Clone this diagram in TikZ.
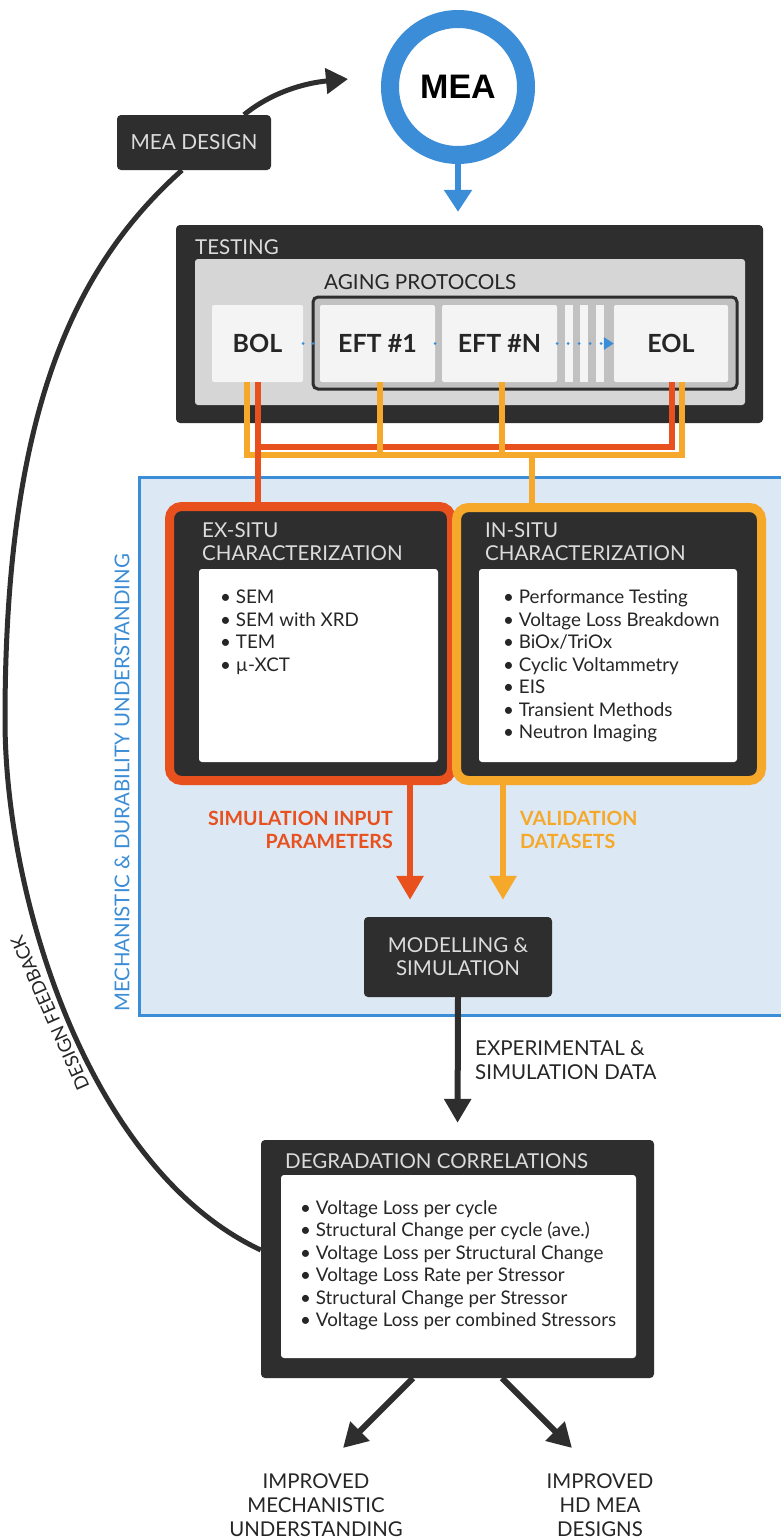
\documentclass[tikz,border=0pt]{standalone}
\usepackage{fontspec}
\setmainfont{Lato}
\newfontfamily\meafont{Liberation Sans}
\usetikzlibrary{positioning,calc,arrows.meta}
\definecolor{cdark}{HTML}{2E2E2E}
\definecolor{cpaper}{HTML}{DCDCDC}
\definecolor{cink}{HTML}{262626}
\definecolor{cblue}{HTML}{3A8DD6}
\definecolor{cpale}{HTML}{DCE8F3}
\definecolor{cred}{HTML}{E8501E}
\definecolor{cyel}{HTML}{F5A82A}
\definecolor{cgray}{HTML}{D6D6D6}
\definecolor{cchip}{HTML}{F4F4F4}

\begin{document}
\begin{tikzpicture}[x=1pt,y=-1pt,
    darkbox/.style={fill=cdark,rounded corners=4pt,inner sep=0pt,text=cpaper},
    whitebox/.style={fill=white,rounded corners=3pt,inner sep=0pt},
    chip/.style={fill=cchip,rounded corners=2pt,inner sep=0pt,minimum height=77pt,text=cink,font=\fontsize{25}{28}\selectfont\bfseries},
    ttl/.style={inner sep=0pt,font=\fontsize{20.5}{23}\selectfont,text=cpaper,align=left},
    items/.style={inner sep=0pt,font=\fontsize{18.8}{22.5}\selectfont,text=cink,align=left},
    bus/.style={line width=6pt},
    fat/.style={line width=6pt,-{Triangle[width=26pt,length=24pt]}}]
    \useasboundingbox (0,0) rectangle (780,1539);
    \fill[white] (0,0) rectangle (780,1539);
    % mechanistic & durability region
    \node[fill=cpale,draw=cblue,line width=2.5pt,inner sep=0pt,minimum width=660pt,minimum height=538pt,anchor=north west] (mech) at (138,476) {};
    \node[rotate=90,text=cblue,inner sep=0pt,font=\fontsize{20.4}{22}\selectfont] (mechlbl) at (122,783) {MECHANISTIC \& DURABILITY UNDERSTANDING};
    % MEA and design
    \node[circle,draw=cblue,line width=18pt,fill=white,minimum size=136pt,inner sep=0pt,text=black,font=\fontsize{34}{34}\meafont\bfseries] (mea) at (458,87) {MEA};
    \node[darkbox,minimum width=154pt,minimum height=55pt,font=\fontsize{20.8}{24}\selectfont] (design) at (194,142.5) {MEA DESIGN};
    % testing block
    \node[darkbox,minimum width=587pt,minimum height=198pt] (testing) at (469.5,324) {};
    \node[ttl,anchor=west] (testlbl) at (195,247) {TESTING};
    \node[fill=cgray,rounded corners=3pt,minimum width=550pt,minimum height=146pt,inner sep=0pt] (panel) at (470,332) {};
    \node[inner sep=0pt,anchor=west,text=cink,font=\fontsize{20.7}{24}\selectfont] (aginglbl) at (324,282) {AGING PROTOCOLS};
    \node[draw=cdark,fill=cgray!90!black,line width=3pt,rounded corners=5pt,minimum width=424pt,minimum height=92pt,inner sep=0pt] (frame) at (525,343) {};
    \node[chip,minimum width=91pt] (bol) at (257.5,343.5) {BOL};
    \node[chip,minimum width=115pt] (eft1) at (377.5,343.5) {EFT \#1};
    \node[chip,minimum width=115pt] (eftn) at (499.5,343.5) {EFT \#N};
    \node[chip,minimum width=114pt] (eol) at (671,343.5) {EOL};
    \foreach \sx/\nm in {569/sa,584/sb,600/sc}
      \node[fill=cchip,minimum width=8pt,minimum height=77pt,inner sep=0pt] (\nm) at (\sx,343.5) {};
    \draw[cblue,line width=3pt,line cap=round,dash pattern=on 0pt off 10pt] (bol.east) -- (eft1.west);
    \draw[cblue,line width=3pt,line cap=round,dash pattern=on 0pt off 10pt] (eft1.east) -- (eftn.west);
    \draw[cblue,line width=3pt,line cap=round,dash pattern=on 0pt off 11pt,-{Triangle[width=12pt,length=10pt]}] (eftn.east) -- (eol.west);
    \draw[cblue,line width=6pt,-{Triangle[width=27pt,length=22pt]},shorten >=13pt] (mea.south) -- (mea.south |- testing.north);
    % characterization boxes
    \node[darkbox,draw=cred,line width=9pt,rounded corners=12pt,minimum width=282pt,minimum height=274pt] (exsitu) at (310.5,643.5) {};
    \node[ttl,anchor=north west] (exlbl) at (202,522.5) {EX-SITU\\CHARACTERIZATION};
    \node[whitebox,minimum width=239pt,minimum height=193pt] (exlist) at (318.5,665.5) {};
    \node[items,anchor=north west] (exitems) at (220,590) {\textbullet\ SEM\\\textbullet\ SEM with XRD\\\textbullet\ TEM\\\textbullet\ µ-XCT};
    \node[darkbox,draw=cyel,line width=9pt,rounded corners=12pt,minimum width=305pt,minimum height=273pt] (insitu) at (609,644) {};
    \node[ttl,anchor=north west] (inlbl) at (485,522.5) {IN-SITU\\CHARACTERIZATION};
    \node[whitebox,minimum width=258pt,minimum height=193pt] (inlist) at (608,665.5) {};
    \node[items,anchor=north west] (initems) at (503,590) {\textbullet\ Performance Testing\\\textbullet\ Voltage Loss Breakdown\\\textbullet\ BiOx/TriOx\\\textbullet\ Cyclic Voltammetry\\\textbullet\ EIS\\\textbullet\ Transient Methods\\\textbullet\ Neutron Imaging};
    % buses from the protocol steps
    \coordinate (rbus) at (0,447);
    \coordinate (ybus) at (0,455);
    \draw[bus,cyel] ([xshift=-10.5pt]bol.south) |- ([xshift=11pt]eol.south |- ybus) -- ([xshift=11pt]eol.south);
    \draw[bus,cyel] ([xshift=-77pt]insitu.north |- ybus) -- ([xshift=-77pt]insitu.north);
    \draw[bus,cred] (bol.south) -- (bol.south |- exsitu.north);
    \draw[bus,cred] (bol.south |- rbus) -| ([xshift=1pt]eol.south);
    \draw[bus,cyel] ([xshift=2.5pt]eft1.south) -- ([xshift=2.5pt]eft1.south |- ybus);
    \draw[bus,cyel] ([xshift=2.5pt]eftn.south) -- ([xshift=2.5pt]eftn.south |- ybus);
    % modelling
    \node[darkbox,minimum width=188pt,minimum height=80pt,align=center,font=\fontsize{20.5}{23}\selectfont] (model) at (458,957) {MODELLING \&\\SIMULATION};
    \draw[fat,cred,shorten >=17pt] ([xshift=99.5pt]exsitu.south) -- ([xshift=99.5pt]exsitu.south |- model.north);
    \draw[fat,cyel,shorten >=17pt] ([xshift=-106pt]insitu.south) -- ([xshift=-106pt]insitu.south |- model.north);
    \node[anchor=north east,align=right,inner sep=0pt,text=cred,font=\fontsize{19.6}{23}\selectfont\bfseries] (simlbl) at (393,811) {SIMULATION INPUT\\PARAMETERS};
    \node[anchor=north west,align=left,inner sep=0pt,text=cyel,font=\fontsize{19.6}{23}\selectfont\bfseries] (vallbl) at (520,811) {VALIDATION\\DATASETS};
    % degradation correlations
    \node[darkbox,minimum width=393pt,minimum height=238pt] (degr) at (457.5,1259) {};
    \node[ttl,anchor=west] (degrlbl) at (285,1161) {DEGRADATION CORRELATIONS};
    \node[whitebox,minimum width=355pt,minimum height=183pt] (degrlist) at (458.5,1266.5) {};
    \node[items,anchor=north west] (degritems) at (300,1200) {\textbullet\ Voltage Loss per cycle\\\textbullet\ Structural Change per cycle (ave.)\\\textbullet\ Voltage Loss per Structural Change\\\textbullet\ Voltage Loss Rate per Stressor\\\textbullet\ Structural Change per Stressor\\\textbullet\ Voltage Loss per combined Stressors};
    \draw[fat,cdark,shorten >=17pt] (model.south) -- (degr.north);
    \node[anchor=north west,align=left,inner sep=0pt,text=cink,font=\fontsize{20.5}{24}\selectfont] (explbl) at (475,1040) {EXPERIMENTAL \&\\SIMULATION DATA};
    % outcomes
    \coordinate (mtip) at (343,1448);
    \coordinate (htip) at (572,1448);
    \draw[fat,cdark] ([xshift=-44.5pt]degr.south) -- (mtip);
    \draw[fat,cdark] ([xshift=44.5pt]degr.south) -- (htip);
    \node[anchor=north,align=center,inner sep=0pt,text=cink,font=\fontsize{20.4}{24}\selectfont] (mechout) at (316,1474) {IMPROVED\\MECHANISTIC\\UNDERSTANDING};
    \node[anchor=north,align=center,inner sep=0pt,text=cink,font=\fontsize{20.4}{24}\selectfont] (designout) at (600,1474) {IMPROVED\\HD MEA\\DESIGNS};
    % design loop
    \coordinate (dtip) at (348,79);
    \draw[cdark,line width=5pt,-{Triangle[width=25pt,length=22pt]}] ([xshift=50pt]design.north) .. controls (272,92) and (305,83) .. (dtip);
    \draw[cdark,line width=5pt] ([xshift=-12pt]design.south) .. controls (70,270) and (5,420) .. (5,720) .. controls (5,900) and (90,1170) .. ([yshift=9pt]degr.west);
    \node[rotate=114,text=cink,inner sep=0pt,font=\fontsize{18.5}{20}\selectfont] (fblbl) at (50,1013) {DESIGN FEEDBACK};
\end{tikzpicture}
\end{document}
